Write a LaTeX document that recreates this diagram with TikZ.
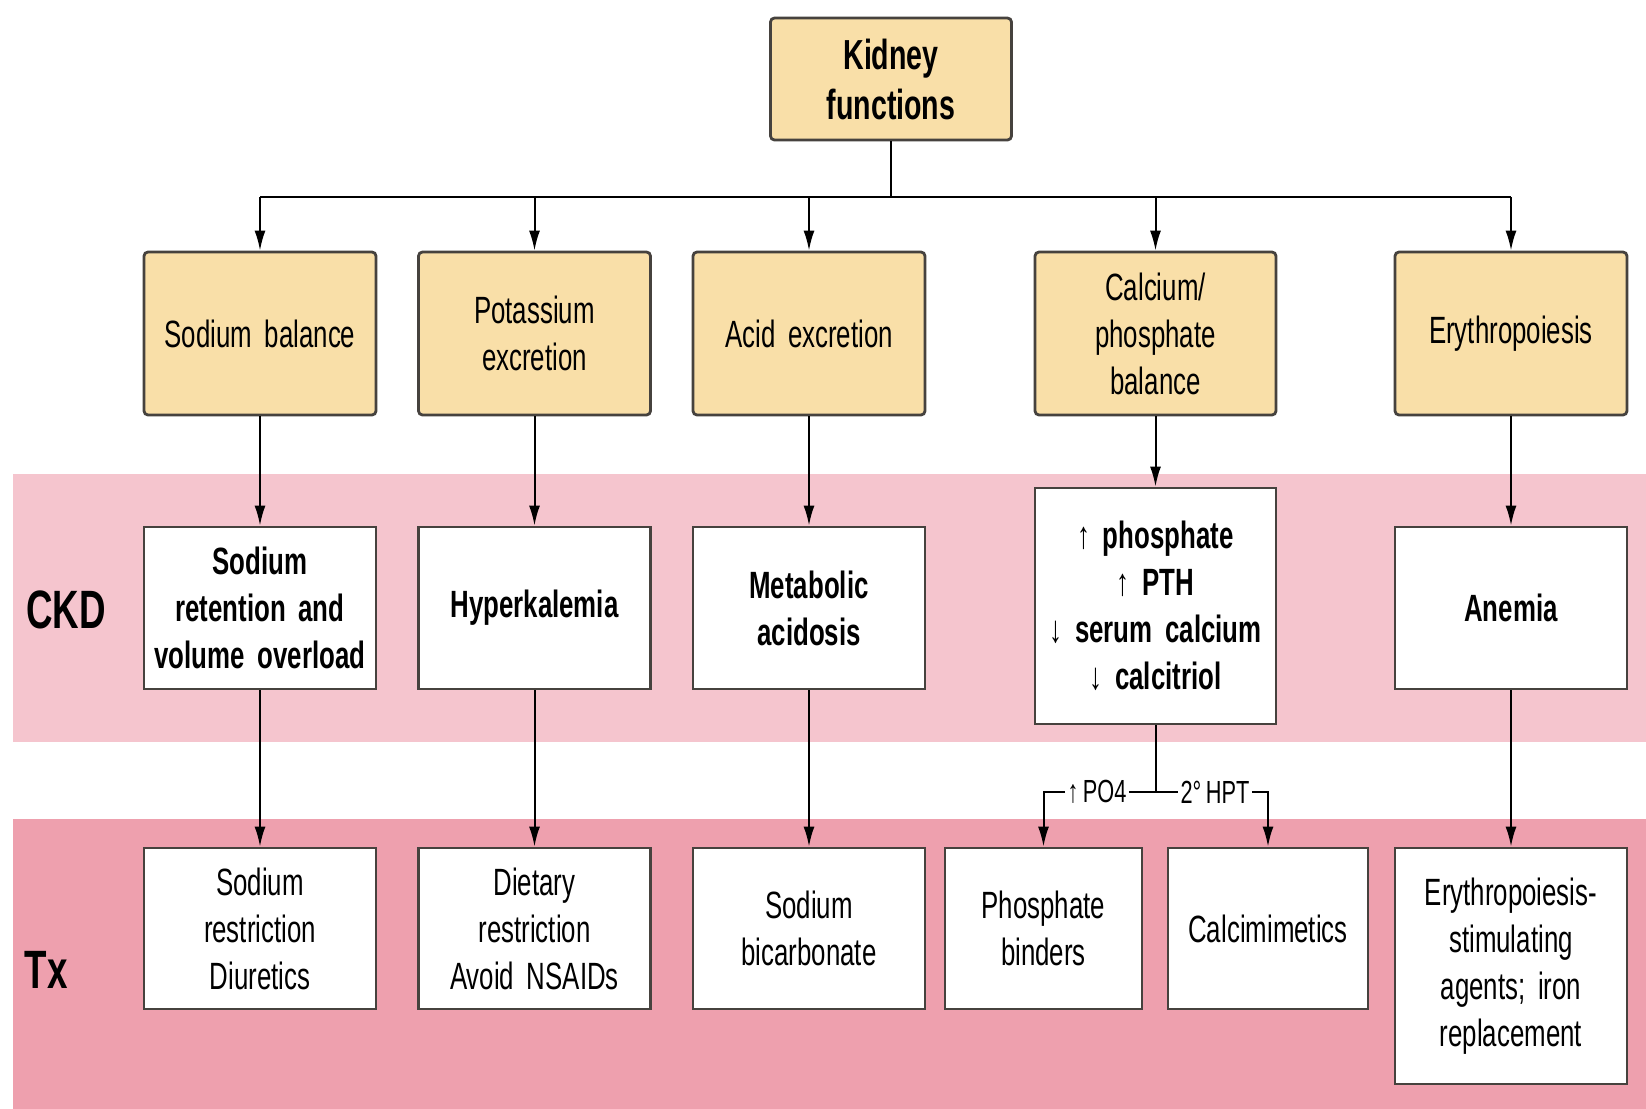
\documentclass[tikz,border=0pt]{standalone}
\usepackage{fontspec}
\setmainfont{Liberation Sans}[FakeStretch=0.68,WordSpace=0.75]
\usetikzlibrary{arrows.meta}
\definecolor{tanfill}{RGB}{249,223,168}
\definecolor{ckdband}{RGB}{245,197,206}
\definecolor{txband}{RGB}{238,160,174}
\definecolor{boxline}{RGB}{70,66,62}
\begin{document}
\begin{tikzpicture}[x=0.5pt,y=-0.5pt,
  fbox/.style={draw=boxline,line width=1.4pt,fill=tanfill,rounded corners=2pt,
    minimum width=116pt,minimum height=81.5pt,align=center,text width=110pt,
    inner sep=0pt,font=\fontsize{19}{23.5}\selectfont},
  cbox/.style={draw=boxline,line width=1.4pt,fill=white,
    minimum width=116pt,minimum height=81pt,align=center,text width=110pt,
    inner sep=0pt,font=\fontsize{19}{23.5}\selectfont\bfseries},
  tbox/.style={draw=boxline,line width=1.4pt,fill=white,
    minimum width=116pt,minimum height=80.5pt,align=center,text width=110pt,
    inner sep=0pt,font=\fontsize{19}{23.5}\selectfont},
  conn/.style={draw=black,line width=1pt},
  arr/.style={conn,-{Latex[length=10pt,width=5.5pt]}},
  lbl/.style={inner sep=1pt,font=\fontsize{16}{18}\selectfont}]
\useasboundingbox (0,0) rectangle (1646,1109);
\fill[white] (0,0) rectangle (1646,1109);
% bands
\fill[ckdband] (13,474) rectangle (1646,742);
\fill[txband] (13,819) rectangle (1646,1109);
\node[font=\fontsize{27}{30}\selectfont\bfseries] (lckd) at (66,610) {CKD};
\node[font=\fontsize{27}{30}\selectfont\bfseries] (ltx) at (46,970) {Tx};
% top
\node[fbox,minimum width=120.5pt,minimum height=61pt,font=\fontsize{21}{25}\selectfont\bfseries] (kid) at (891,79) {Kidney\\functions};
\node[fbox] (f1) at (260,333.5) {Sodium balance};
\node[fbox] (f2) at (534.5,333.5) {Potassium\\excretion};
\node[fbox] (f3) at (809,333.5) {Acid excretion};
\node[fbox,minimum width=120.5pt] (f4) at (1155.5,333.5) {Calcium/\\phosphate\\balance};
\node[fbox] (f5) at (1511,333.5) {Erythropoiesis};
% CKD
\node[cbox] (c1) at (260,608) {Sodium\\retention and\\volume overload};
\node[cbox] (c2) at (534.5,608) {Hyperkalemia};
\node[cbox] (c3) at (809,608) {Metabolic\\acidosis};
\node[cbox,minimum width=120.5pt,minimum height=118pt] (c4) at (1155.5,606) {↑ phosphate\\↑ PTH\\↓ serum calcium\\↓ calcitriol};
\node[cbox] (c5) at (1511,608) {Anemia};
% Tx
\node[tbox] (t1) at (260,928.5) {Sodium\\restriction\\Diuretics};
\node[tbox] (t2) at (534.5,928.5) {Dietary\\restriction\\Avoid NSAIDs};
\node[tbox] (t3) at (809,928.5) {Sodium\\bicarbonate};
\node[tbox,minimum width=98.5pt,text width=94pt] (t4) at (1043.5,928.5) {Phosphate\\binders};
\node[tbox,minimum width=100pt,text width=96pt] (t5) at (1268,928.5) {Calcimimetics};
\node[tbox,minimum height=118pt] (t6) at (1511,966) {Erythropoiesis-\\stimulating\\agents; iron\\replacement};
% bus
\coordinate (bus) at (891,197);
\draw[conn] (kid.south) -- (bus);
\draw[conn] (f1.north |- bus) -- (f5.north |- bus);
\foreach \n in {f1,f2,f3,f4,f5}{\draw[arr] (\n.north |- bus) -- (\n.north);}
% columns
\draw[arr] (f1) -- (c1);
\draw[arr] (f2) -- (c2);
\draw[arr] (f3) -- (c3);
\draw[arr] (f4) -- (c4);
\draw[arr] (f5) -- (c5);
\draw[arr] (c1) -- (t1);
\draw[arr] (c2) -- (t2);
\draw[arr] (c3) -- (t3);
\draw[arr] (c5) -- (t6);
% branch
\node[lbl] (po4) at (1097,792) {↑ PO4};
\node[lbl] (hpt) at (1215,792) {2° HPT};
\coordinate (jn) at (1155.5,792);
\draw[conn] (c4.south) -- (jn);
\draw[conn] (po4.east) -- (hpt.west);
\draw[arr] (po4.west) -| (t4.north);
\draw[arr] (hpt.east) -| (t5.north);
\end{tikzpicture}
\end{document}
